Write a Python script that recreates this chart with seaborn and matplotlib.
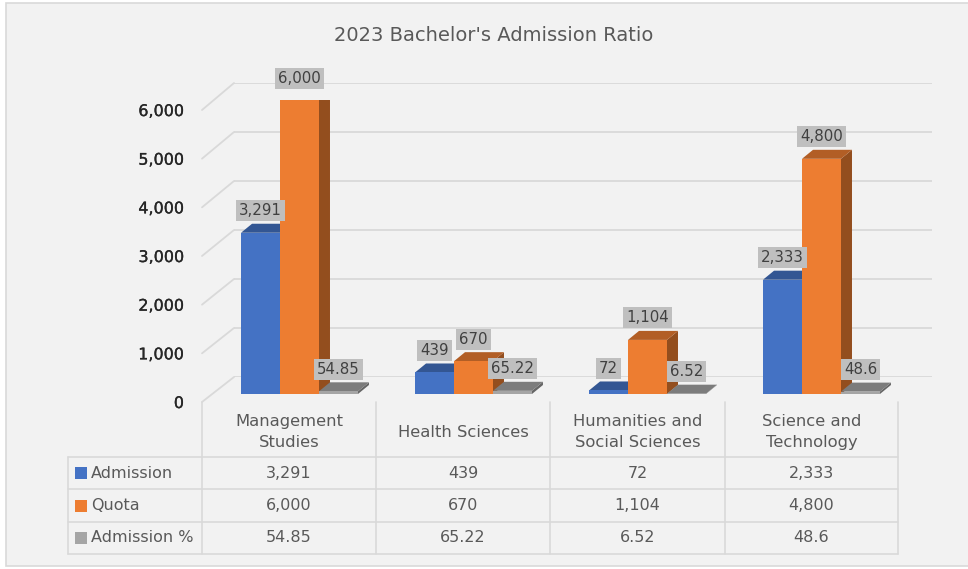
import matplotlib
matplotlib.use("Agg")
import matplotlib.pyplot as plt
import matplotlib.patheffects as pe
from matplotlib.patches import Polygon, Rectangle, ConnectionPatch
from matplotlib.colors import to_rgb
import seaborn as sns
import pandas as pd

categories = ["Management\nStudies", "Health Sciences", "Humanities and\nSocial Sciences", "Science and\nTechnology"]
series = ["Admission", "Quota", "Admission %"]
admission = [3291, 439, 72, 2333]
quota = [6000, 670, 1104, 4800]
admission_pct = [54.85, 65.22, 6.52, 48.6]
y_ticks = [0, 1000, 2000, 3000, 4000, 5000, 6000]
colors = ["#4472C4", "#ED7D31", "#A5A5A5"]

W, H = 968, 569


def box(left, top, right, bottom):
    # pixel box (from top-left) -> figure fraction rect
    return [left / W, 1 - bottom / H, (right - left) / W, (bottom - top) / H]


def shade(c, k):
    r, g, b = to_rgb(c)
    return (r * k, g * k, b * k)


def fmt(v):
    return f"{v:,}" if isinstance(v, int) else f"{v:g}"


sns.set_theme(style="white")
plt.rcParams["font.family"] = ["DejaVu Sans"]

fig = plt.figure(figsize=(W / 100, H / 100), dpi=100, facecolor="white")

# background panel + title
bg = fig.add_axes([0, 0, 1, 1], zorder=0)
bg.set_xlim(0, W)
bg.set_ylim(H, 0)
bg.axis("off")
bg.add_patch(Rectangle((6, 3), W, 563, fc="#f2f2f2", ec="#d9d9d9", lw=1.2))
bg.text(494, 35, "2023 Bachelor's Admission Ratio", ha="center", va="center",
        fontsize=14, color="#595959")

# back wall with gridlines
wall = fig.add_axes(box(234, 83, 932, 377), zorder=1)
wall.set_ylim(0, 6000)
wall.set_yticks(y_ticks)
wall.set_xticks([])
wall.grid(axis="y", color="#d9d9d9", lw=1.3)
wall.tick_params(left=False, labelleft=False)
sns.despine(ax=wall, left=True, bottom=True)
wall.patch.set_alpha(0)

# front-left value axis
front = fig.add_axes(box(202, 110, 234, 402), zorder=2)
front.set_ylim(0, 6000)
front.set_yticks(y_ticks)
front.set_yticklabels([fmt(t) for t in y_ticks])
front.set_xticks([])
front.tick_params(axis="y", length=0, pad=13, labelsize=11.5, labelcolor="#262626")
for lbl in front.get_yticklabels():
    lbl.set_path_effects([pe.withStroke(linewidth=0.2, foreground="#262626")])
sns.despine(ax=front, left=True, bottom=True)
front.patch.set_alpha(0)
for t in y_ticks:
    fig.add_artist(ConnectionPatch((0, t), (0, t), coordsA=front.transData, coordsB=wall.transData,
                                   color="#d9d9d9", lw=1.3, zorder=1.5))

# bars
df = pd.DataFrame({
    "category": categories * 3,
    "series": [s for s in series for _ in categories],
    "value": admission + quota + admission_pct,
})
ax = fig.add_axes(box(212.5, 100, 908.5, 394), zorder=3)
sns.barplot(data=df, x="category", y="value", hue="series", palette=colors, width=0.672,
            saturation=1, errorbar=None, legend=False, linewidth=0, ax=ax)
ax.set_xlim(-0.5, 3.5)
ax.set_ylim(0, 6000)
ax.axis("off")
ax.patch.set_alpha(0)

dx = 11 / ax.bbox.width * 4
dy = 9 / ax.bbox.height * 6000
lab_off = 22 / ax.bbox.height * 6000

values = [admission, quota, admission_pct]
n = len(categories)
for j, vals in enumerate(values):
    for i, v in enumerate(vals):
        p = ax.patches[j * n + i]
        x, w, h = p.get_x(), p.get_width(), p.get_height()
        p.set_zorder(2 + j + 0.5)
        side = [(x + w, 0), (x + w + dx, dy), (x + w + dx, h + dy), (x + w, h)]
        top = [(x, h), (x + w, h), (x + w + dx, h + dy), (x + dx, h + dy)]
        ax.add_patch(Polygon(side, closed=True, fc=shade(colors[j], 0.62), ec="none", zorder=2 + j))
        ax.add_patch(Polygon(top, closed=True, fc=shade(colors[j], 0.75), ec="none", zorder=2 + j))
        ax.text(x + w / 2, h + lab_off, fmt(v), ha="center", va="center", fontsize=10.8,
                color="#404040", zorder=20, clip_on=False,
                bbox=dict(boxstyle="square,pad=0.2", fc="#bfbfbf", ec="none"))

# data table
tab = fig.add_axes([0, 0, 1, 1], zorder=5)
tab.set_xlim(0, W)
tab.set_ylim(H, 0)
tab.axis("off")
col_edges = [202, 376, 550, 725, 898]
row_edges = [457, 489, 522, 554]
line_kw = dict(color="#d9d9d9", lw=1.2)
for xe in col_edges:
    tab.plot([xe, xe], [402, 554], **line_kw)
tab.plot([68, 68], [457, 554], **line_kw)
for ye in row_edges:
    tab.plot([68, 898], [ye, ye], **line_kw)

for i, cat in enumerate(categories):
    cx = (col_edges[i] + col_edges[i + 1]) / 2
    tab.text(cx, 432, cat, ha="center", va="center", fontsize=11.8, color="#595959",
             linespacing=1.55)
    for j, vals in enumerate(values):
        cy = (row_edges[j] + row_edges[j + 1]) / 2
        tab.text(cx, cy, fmt(vals[i]), ha="center", va="center", fontsize=11.5, color="#595959")

for j, name in enumerate(series):
    cy = (row_edges[j] + row_edges[j + 1]) / 2
    tab.add_patch(Rectangle((75, cy - 6), 12, 12, fc=colors[j], ec="none"))
    tab.text(91, cy, name, ha="left", va="center", fontsize=11.5, color="#595959")

fig.savefig("out.png", dpi=100, facecolor=fig.get_facecolor())
